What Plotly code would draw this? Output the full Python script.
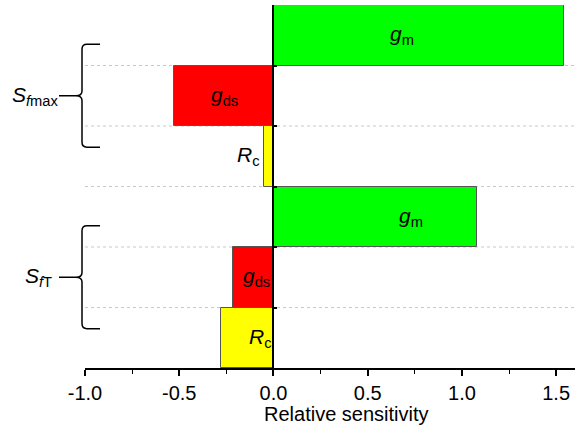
import plotly.graph_objects as go

# ---- data ----
groups = ["S_fmax", "S_fT"]
params = ["g_m", "g_ds", "R_c"]
sfmax_values = [1.54, -0.53, -0.05]
sft_values = [1.08, -0.215, -0.28]
param_labels = ["<i>g</i><sub>m</sub>", "<i>g</i><sub>ds</sub>", "<i>R</i><sub>c</sub>"]
group_labels = ["<i>S</i><sub><i>f</i>max</sub>", "<i>S</i><sub><i>f</i>T</sub>"]
colors = ["#00FF00", "#FF0000", "#FFFF00"]
x_ticks = [-1.0, -0.5, 0.0, 0.5, 1.0, 1.5]

# label x positions (data units) for each bar label
sfmax_label_x = [0.68, -0.26, -0.135]
sft_label_x = [0.73, -0.09, -0.07]

FONT = "Liberation Sans, Arial, sans-serif"

values = sfmax_values + sft_values
label_x = sfmax_label_x + sft_label_x
n = len(values)
ypos = [n - i - 0.5 for i in range(n)]
bar_colors = colors + colors
texts = param_labels + param_labels

fig = go.Figure()
fig.add_trace(go.Bar(
    x=values, y=ypos, orientation="h", width=1,
    marker=dict(color=bar_colors, line=dict(color="#555555", width=1)),
    hoverinfo="skip", showlegend=False,
))

# bar labels
for xv, yv, t in zip(label_x, ypos, texts):
    fig.add_annotation(x=xv, y=yv, xref="x", yref="y", text=t, showarrow=False,
                       font=dict(family=FONT, size=21, color="black"),
                       xanchor="center", yanchor="middle")

# dotted boundary gridlines between bars
for b in range(1, n):
    fig.add_shape(type="line", xref="paper", yref="y", x0=0, x1=1, y0=b, y1=b,
                  line=dict(color="#C8C8C8", width=1, dash="dot"), layer="below")

# braces with group labels
px_to_paper = lambda p: (p - 85) / 490.0
xv_ = px_to_paper(82)
xh_ = px_to_paper(100)
xt_ = px_to_paper(76)
half = 0.85
group_centers = [4.5, 1.5]
label_right_px = [61, 54]
for gl, yc, lr in zip(group_labels, group_centers, label_right_px):
    top, bot = yc + half, yc - half
    path = (f"M {xh_},{top} L {xv_ + 0.01},{top} Q {xv_},{top} {xv_},{top - 0.08} "
            f"L {xv_},{yc + 0.08} Q {xv_},{yc} {xt_},{yc} Q {xv_},{yc} {xv_},{yc - 0.08} "
            f"L {xv_},{bot + 0.08} Q {xv_},{bot} {xv_ + 0.01},{bot} L {xh_},{bot}")
    fig.add_shape(type="path", xref="paper", yref="y", path=path,
                  line=dict(color="black", width=1.5))
    fig.add_shape(type="line", xref="paper", yref="y",
                  x0=px_to_paper(59), x1=xt_, y0=yc, y1=yc,
                  line=dict(color="black", width=1.5))
    fig.add_annotation(x=px_to_paper(lr), y=yc, xref="paper", yref="y", text=gl,
                       showarrow=False, xanchor="right", yanchor="middle",
                       font=dict(family=FONT, size=21, color="black"))

# x-axis title as annotation
fig.add_annotation(x=px_to_paper(346), y=-0.126, xref="paper", yref="paper",
                   text="Relative sensitivity", showarrow=False,
                   xanchor="center", yanchor="middle",
                   font=dict(family=FONT, size=20, color="black"))

zero_pos = (0 - (-1.0)) / (1.6 - (-1.0))

fig.update_layout(
    width=587, height=433,
    margin=dict(l=85, r=12, t=5, b=65),
    paper_bgcolor="white", plot_bgcolor="white",
    font=dict(family=FONT, color="black"),
    bargap=0,
    xaxis=dict(range=[-1.0, 1.6], tickvals=x_ticks,
               ticktext=[f"{v:.1f}" for v in x_ticks],
               showgrid=False, zeroline=False, showline=True,
               linecolor="black", linewidth=1.5,
               ticks="outside", ticklen=6, tickwidth=1.5, tickcolor="black",
               minor=dict(dtick=0.25, ticks="outside", ticklen=4, tickwidth=1.2, tickcolor="black"),
               tickfont=dict(family=FONT, size=20, color="black")),
    yaxis=dict(range=[0, n], anchor="free", position=zero_pos,
               tickvals=list(range(0, n + 1)), showticklabels=False,
               showgrid=False, zeroline=False, showline=True,
               linecolor="black", linewidth=1.5,
               ticks="inside", ticklen=3, tickwidth=1.5, tickcolor="black"),
)

fig.write_html("out.html", config={"displayModeBar": False},
               post_script="document.body.style.margin='0';document.body.style.overflow='hidden';")
